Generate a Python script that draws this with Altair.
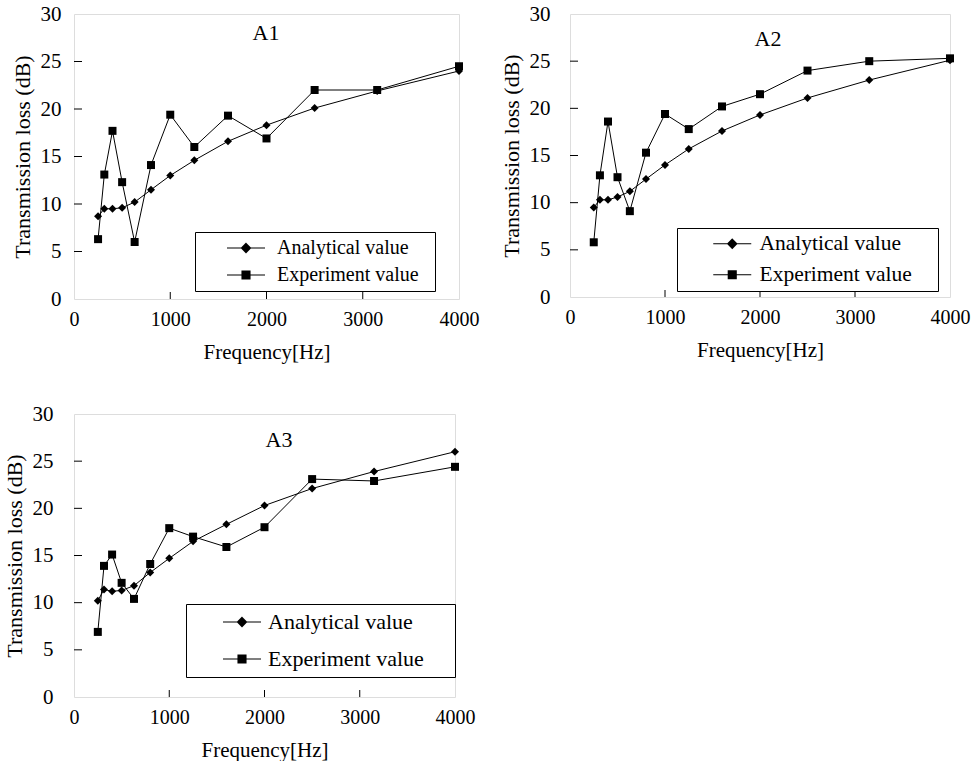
import altair as alt
import pandas as pd

FREQ = [250, 315, 400, 500, 630, 800, 1000, 1250, 1600, 2000, 2500, 3150, 4000]
A1_ANALYTICAL = [8.7, 9.5, 9.5, 9.6, 10.2, 11.5, 13.0, 14.6, 16.6, 18.3, 20.1, 21.9, 24.0]
A1_EXPERIMENT = [6.3, 13.1, 17.7, 12.3, 6.0, 14.1, 19.4, 16.0, 19.3, 16.9, 22.0, 22.0, 24.5]
A2_ANALYTICAL = [9.5, 10.3, 10.3, 10.6, 11.2, 12.5, 14.0, 15.7, 17.6, 19.3, 21.1, 23.0, 25.1]
A2_EXPERIMENT = [5.8, 12.9, 18.6, 12.7, 9.1, 15.3, 19.4, 17.8, 20.2, 21.5, 24.0, 25.0, 25.3]
A3_ANALYTICAL = [10.2, 11.4, 11.2, 11.3, 11.8, 13.2, 14.7, 16.5, 18.3, 20.3, 22.1, 23.9, 26.0]
A3_EXPERIMENT = [6.9, 13.9, 15.1, 12.1, 10.4, 14.1, 17.9, 17.0, 15.9, 18.0, 23.1, 22.9, 24.4]
SERIES = ["Analytical value", "Experiment value"]
X_TICKS = [0, 1000, 2000, 3000, 4000]
Y_TICKS = [0, 5, 10, 15, 20, 25, 30]
X_INNER_TICKS = [1000, 2000, 3000]
Y_INNER_TICKS = [5, 10, 15, 20, 25]

FONT = "Liberation Serif"

# legend glyphs: a short line through a (solid-looking) marker, unit coords
HALF = 4.75
DIAMOND_PATH = f"M-{HALF},0L{HALF},0" + "".join(
    f"M0,-{r}L{r},0L0,{r}L-{r},0Z" for r in [1.15, 0.9, 0.65, 0.4, 0.15])
SQUARE_PATH = f"M-{HALF},0L{HALF},0" + "".join(
    f"M-{s},-{s}L{s},-{s}L{s},{s}L-{s},{s}Z" for s in [1.0, 0.75, 0.5, 0.25])


def panel(name, ana, exp, w, h, tx, ty, lx, ly, lfont, lrow, lpad, symoff, laboff, rpad, ylabpad):
    df = pd.DataFrame({
        "freq": FREQ * 2,
        "tl": ana + exp,
        "series": [SERIES[0]] * len(FREQ) + [SERIES[1]] * len(FREQ),
    })
    xs = alt.Scale(domain=[0, 4000], nice=False)
    ys = alt.Scale(domain=[0, 30], nice=False)
    x = alt.X("freq:Q", scale=xs, title="Frequency[Hz]", axis=alt.Axis(
        values=X_TICKS, format="d", ticks=False, tickSize=0, domain=False, grid=False,
        labelFontSize=20, titleFontSize=21,
        labelPadding=10, titlePadding=12, labelFont=FONT, titleFont=FONT,
        labelColor="black", titleColor="black", titleFontWeight="normal",
        labelFlush=False))
    y = alt.Y("tl:Q", scale=ys, title="Transmission loss (dB)", axis=alt.Axis(
        values=Y_TICKS, format="d", ticks=False, tickSize=0, domain=False, grid=False,
        labelFontSize=21, titleFontSize=22,
        labelPadding=ylabpad, titlePadding=6, labelFont=FONT, titleFont=FONT,
        labelColor="black", titleColor="black", titleFontWeight="normal",
        labelFlush=False))
    base = alt.Chart(df)
    lines = base.mark_line(color="black", strokeWidth=1).encode(
        x=x, y=y, detail="series:N")
    points = base.mark_point(filled=True, color="black", opacity=1, size=64).encode(
        x=x, y=y,
        shape=alt.Shape("series:N", scale=alt.Scale(domain=SERIES, range=["diamond", "square"]),
                        legend=None))
    legend_layer = base.transform_filter("false").mark_point(
        filled=False, color="black", strokeWidth=1, opacity=1, size=64).encode(
        x=x, y=y,
        shape=alt.Shape("series:N", scale=alt.Scale(domain=SERIES, range=[DIAMOND_PATH, SQUARE_PATH]),
                        legend=alt.Legend(
                            title="MM", titleOrient="right", titleColor="white",
                            titleFont=FONT, titleFontWeight="normal",
                            titleFontSize=rpad / (2 * 0.889), titlePadding=0,
                            orient="none", legendX=lx, legendY=ly,
                            strokeColor="black", fillColor="white", padding=lpad,
                            labelFont=FONT, labelFontSize=lfont, labelColor="black",
                            labelLimit=400, rowPadding=lrow, symbolSize=64,
                            symbolOffset=symoff, labelOffset=laboff, symbolOpacity=1,
                            symbolStrokeColor="black", symbolStrokeWidth=1.1)))
    yt = alt.Chart(pd.DataFrame({"tl": Y_INNER_TICKS})).mark_rule(color="black", strokeWidth=1).encode(
        y=y, x=alt.value(0), x2=alt.value(8))
    xt = alt.Chart(pd.DataFrame({"freq": X_INNER_TICKS})).mark_rule(color="black", strokeWidth=1).encode(
        x=x, y=alt.value(h), y2=alt.value(h - 7))
    title = alt.Chart(pd.DataFrame({"t": [name]})).mark_text(
        font=FONT, fontSize=22, color="black", baseline="middle", align="center").encode(
        text="t:N", x=alt.value(tx), y=alt.value(ty))
    return alt.layer(lines, points, legend_layer, yt, xt, title).resolve_scale(
        shape="independent").properties(width=w, height=h)


p1 = panel("A1", A1_ANALYTICAL, A1_EXPERIMENT, 385, 285, 192, 19, 121, 218, 20, 7, 6, 35, 21, 10, 13)
p2 = panel("A2", A2_ANALYTICAL, A2_EXPERIMENT, 380, 283, 198, 25, 107, 214, 21.5, 8, 5, 39.5, 16.5, 21, 20)
p3 = panel("A3", A3_ANALYTICAL, A3_EXPERIMENT, 381, 283, 205, 26, 112, 190, 22, 15, 7, 38, 15, 24, 21)

top = alt.hconcat(p1, p2, spacing=19).resolve_scale(shape="independent")
chart = alt.vconcat(top, p3, spacing=39).resolve_scale(shape="independent").properties(
    padding={"left": 2, "top": 2, "right": 0, "bottom": 0}
).configure_view(stroke="black", strokeWidth=1).configure(font=FONT).configure_axis(
    labelFont=FONT, titleFont=FONT)

chart.save("out.html", embed_options={"renderer": "svg", "actions": False})
